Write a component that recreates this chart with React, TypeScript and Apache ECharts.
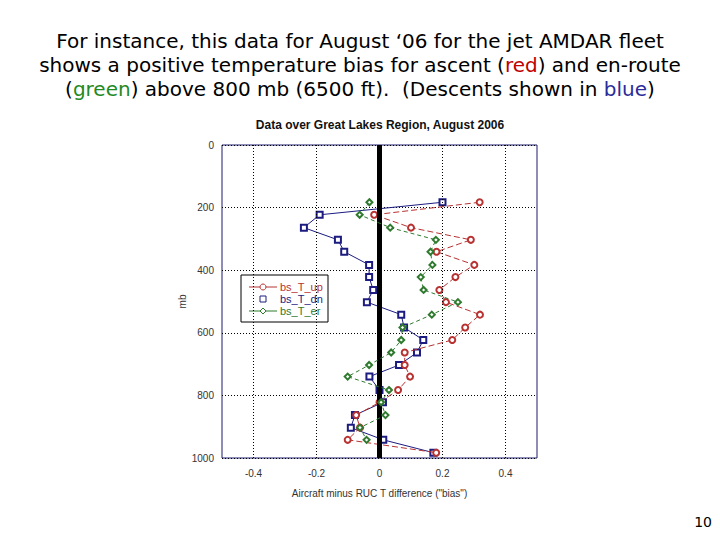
import React, { useEffect, useRef } from "react";
import * as echarts from "echarts";

const levels = [183, 223, 264, 303, 341, 383, 422, 463, 502, 542, 583, 623, 663, 703, 740, 783, 822, 863, 903, 942, 983];
const biasUp = [0.318, -0.017, 0.1, 0.29, 0.181, 0.301, 0.241, 0.19, 0.211, 0.319, 0.272, 0.231, 0.08, 0.08, 0.097, 0.059, 0.0, -0.074, -0.062, -0.101, 0.18];
const biasDn = [0.2, -0.19, -0.24, -0.132, -0.112, -0.033, -0.033, -0.02, -0.04, 0.069, 0.078, 0.139, 0.119, 0.062, -0.032, 0.0, 0.011, -0.078, -0.091, 0.012, 0.171];
const biasEr = [-0.032, -0.063, 0.034, 0.179, 0.162, 0.168, 0.131, 0.14, 0.249, 0.166, 0.073, 0.069, 0.037, -0.033, -0.101, 0.03, 0.005, 0.019, -0.062, -0.041, null];
const seriesNames = ["bs_T_up", "bs_T_dn", "bs_T_er"];
const gridLinesX = [-0.4, -0.2, 0.2, 0.4];
const titleLines = [
  "For instance, this data for August \u201806 for the jet AMDAR fleet",
  "shows a positive temperature bias for ascent ({r|red}) and en-route",
  "({g|green}) above 800 mb (6500 ft).  (Descents shown in {b|blue})",
];

const RED = "#b83232";
const BLUE = "#1c1c80";
const GREEN = "#2f7a2f";

function pairs(vals: (number | null)[]) {
  return vals
    .map((v, i) => (v === null ? null : [v, levels[i]]))
    .filter((p) => p !== null) as number[][];
}

export default function App() {
  const ref = useRef<HTMLDivElement>(null);
  useEffect(() => {
    if (!ref.current) return;
    const chart = echarts.init(ref.current, null, { renderer: "svg" });
    const legX = 241;
    const legY = 275;
    const titleFont = '20px "DejaVu Sans"';
    chart.setOption({
      animation: false,
      backgroundColor: "#ffffff",
      graphic: [
        ...titleLines.map((t, i) => ({
          type: "text",
          left: "center",
          top: 29 + i * 24,
          style: {
            text: t,
            font: titleFont,
            fill: "#000",
            lineHeight: 24,
            rich: {
              r: { fill: "#c00000", font: titleFont, lineHeight: 24 },
              g: { fill: "#1f8a1f", font: titleFont, lineHeight: 24 },
              b: { fill: "#2b2b99", font: titleFont, lineHeight: 24 },
            },
          },
        })),
        {
          type: "text",
          x: 380,
          y: 125,
          style: {
            text: "Data over Great Lakes Region, August 2006",
            font: 'bold 12px "Liberation Sans"',
            fill: "#111",
            align: "center",
            verticalAlign: "middle",
          },
        },
        {
          type: "text",
          x: 712,
          y: 522,
          style: {
            text: "10",
            font: '14px "DejaVu Sans"',
            fill: "#000",
            align: "right",
            verticalAlign: "middle",
          },
        },
        {
          type: "group",
          z: 100,
          children: [
            {
              type: "rect",
              shape: { x: legX, y: legY, width: 87, height: 47 },
              style: { fill: "#fff", stroke: "#000", lineWidth: 1 },
            },
            { type: "line", shape: { x1: legX + 8, y1: legY + 12, x2: legX + 36, y2: legY + 12 }, style: { stroke: RED, lineWidth: 1 } },
            { type: "circle", shape: { cx: legX + 22, cy: legY + 12, r: 3 }, style: { fill: "#fff", stroke: RED, lineWidth: 1 } },
            { type: "rect", shape: { x: legX + 19, y: legY + 21, width: 6, height: 6 }, style: { fill: "#fff", stroke: BLUE, lineWidth: 1 } },
            { type: "line", shape: { x1: legX + 8, y1: legY + 36, x2: legX + 36, y2: legY + 36 }, style: { stroke: GREEN, lineWidth: 1 } },
            { type: "polygon", shape: { points: [[legX + 22, legY + 33], [legX + 25, legY + 36], [legX + 22, legY + 39], [legX + 19, legY + 36]] }, style: { fill: "#fff", stroke: GREEN, lineWidth: 1 } },
            { type: "text", x: legX + 39, y: legY + 12, style: { text: seriesNames[0], font: '11px "Liberation Sans"', fill: RED, verticalAlign: "middle" } },
            { type: "text", x: legX + 39, y: legY + 24, style: { text: seriesNames[1], font: '11px "Liberation Sans"', fill: BLUE, verticalAlign: "middle" } },
            { type: "text", x: legX + 39, y: legY + 36, style: { text: seriesNames[2], font: '11px "Liberation Sans"', fill: GREEN, verticalAlign: "middle" } },
          ],
        },
      ],
      grid: {
        left: 222,
        right: 183,
        top: 145,
        bottom: 82,
        show: true,
        borderColor: "#1a1a6e",
        borderWidth: 1,
        backgroundColor: "transparent",
      },
      xAxis: {
        type: "value",
        min: -0.5,
        max: 0.5,
        interval: 0.1,
        axisLine: { show: false },
        axisTick: { show: false },
        splitLine: { show: false },
        axisLabel: {
          color: "#333",
          fontFamily: "Liberation Sans",
          fontSize: 10,
          margin: 10,
          formatter: (v: number) => {
            const t = Math.round(v * 10);
            if (t % 2 !== 0 || Math.abs(t) === 5) return "";
            return String(t / 10);
          },
        },
        name: 'Aircraft minus RUC T difference ("bias")',
        nameLocation: "middle",
        nameGap: 30,
        nameTextStyle: { color: "#333", fontFamily: "Liberation Sans", fontSize: 10 },
      },
      yAxis: {
        type: "value",
        inverse: true,
        min: 0,
        max: 1000,
        interval: 200,
        axisLine: { show: false },
        axisTick: { show: false },
        splitLine: { show: true, lineStyle: { color: "#000", type: [1, 2], width: 1 } },
        axisLabel: {
          color: "#333",
          fontFamily: "Liberation Sans",
          fontSize: 10,
          margin: 8,
          formatter: (v: number) => String(Math.round(v)),
        },
        name: "mb",
        nameLocation: "middle",
        nameGap: 35,
        nameRotate: 90,
        nameTextStyle: { color: "#333", fontFamily: "Liberation Sans", fontSize: 10 },
      },
      series: [
        {
          name: "grid",
          type: "line",
          data: [],
          silent: true,
          markLine: {
            silent: true,
            symbol: "none",
            label: { show: false },
            lineStyle: { color: "#000", type: [1, 2], width: 1 },
            data: gridLinesX.map((x) => ({ xAxis: x })),
          },
        },
        {
          name: "zero",
          type: "line",
          data: [],
          silent: true,
          z: 1,
          markLine: {
            silent: true,
            symbol: "none",
            label: { show: false },
            lineStyle: { color: "#000", type: "solid", width: 5 },
            data: [{ xAxis: 0 }],
          },
        },
        {
          name: seriesNames[1],
          type: "line",
          data: pairs(biasDn),
          symbol: "emptyRect",
          symbolSize: 6,
          z: 3,
          lineStyle: { color: BLUE, width: 1 },
          itemStyle: { color: BLUE, borderWidth: 1 },
        },
        {
          name: seriesNames[0],
          type: "line",
          data: pairs(biasUp),
          symbol: "emptyCircle",
          symbolSize: 6,
          z: 4,
          lineStyle: { color: RED, width: 1, type: [6, 3] },
          itemStyle: { color: RED, borderWidth: 1 },
        },
        {
          name: seriesNames[2],
          type: "line",
          data: pairs(biasEr),
          symbol: "emptyDiamond",
          symbolSize: 6,
          z: 5,
          lineStyle: { color: GREEN, width: 1, type: [4, 3] },
          itemStyle: { color: GREEN, borderWidth: 1 },
        },
      ],
    });
    return () => chart.dispose();
  }, []);
  return (
    <div
      ref={ref}
      style={{ position: "fixed", left: 0, top: 0, width: 720, height: 540, background: "#fff" }}
    />
  );
}
